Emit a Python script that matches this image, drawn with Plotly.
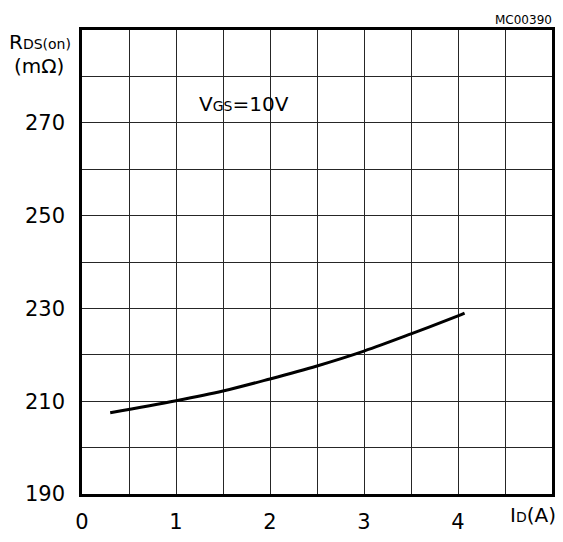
import plotly.graph_objects as go

# Drain current I_D (A) and on-state resistance R_DS(on) (mOhm) at V_GS = 10 V
drain_current = [0.3, 1.0, 1.5, 2.0, 2.5, 3.0, 3.5, 4.0, 4.07]
rds_on = [207.5, 210.1, 212.2, 214.8, 217.6, 220.8, 224.5, 228.4, 229.0]

x_tick_vals = [0, 1, 2, 3, 4]
x_tick_text = ["0", "1", "2", "3", "4"]
y_tick_vals = [190, 210, 230, 250, 270]
y_tick_text = ["190", "210", "230", "250", "270"]

FONT = "DejaVu Sans"
GRID = "#262626"

fig = go.Figure()
fig.add_trace(go.Scatter(
    x=drain_current, y=rds_on, mode="lines",
    line=dict(color="black", width=3, shape="spline", smoothing=1.0),
    hoverinfo="skip", showlegend=False,
))

axis_common = dict(
    showline=True, linecolor="black", linewidth=2.5, mirror=True,
    showgrid=True, gridcolor=GRID, gridwidth=1.2,
    zeroline=False, ticks="", fixedrange=True,
    tickfont=dict(family=FONT, size=21, color="black"),
)

fig.update_layout(
    width=563, height=542,
    margin=dict(l=82, r=8, t=30, b=30),
    paper_bgcolor="white", plot_bgcolor="white",
    xaxis=dict(range=[0, 5], tickvals=x_tick_vals, ticktext=x_tick_text,
               minor=dict(dtick=0.5, tick0=0, showgrid=True, gridcolor=GRID, gridwidth=1.2),
               ticklabelstandoff=7, **axis_common),
    yaxis=dict(range=[190, 290], tickvals=y_tick_vals, ticktext=y_tick_text,
               minor=dict(dtick=10, tick0=190, showgrid=True, gridcolor=GRID, gridwidth=1.2),
               ticklabelstandoff=10, **axis_common),
    annotations=[
        dict(text="R<span style='font-size:14px'>DS(on)</span>", xref="paper", yref="paper",
             x=0, y=1, xanchor="right", yanchor="middle", xshift=-9, yshift=-12,
             showarrow=False, font=dict(family=FONT, size=20, color="black")),
        dict(text="(mΩ)", xref="paper", yref="paper",
             x=0, y=1, xanchor="right", yanchor="middle", xshift=-16, yshift=-36,
             showarrow=False, font=dict(family=FONT, size=20, color="black")),
        dict(text="I<span style='font-size:14px'>D</span>(A)", xref="paper", yref="paper",
             x=1, y=0, xanchor="right", yanchor="middle", xshift=6, yshift=-21,
             showarrow=False, font=dict(family=FONT, size=20, color="black")),
        dict(text="MC00390", xref="paper", yref="paper",
             x=1, y=1, xanchor="right", yanchor="middle", xshift=2, yshift=10,
             showarrow=False, font=dict(family=FONT, size=12, color="black")),
        dict(text="V<span style='font-size:14px'>GS</span>=10V", xref="x", yref="y",
             x=1.22, y=274.1, xanchor="left", yanchor="middle",
             showarrow=False, font=dict(family=FONT, size=20, color="black")),
    ],
)

fig.write_html("out.html")
